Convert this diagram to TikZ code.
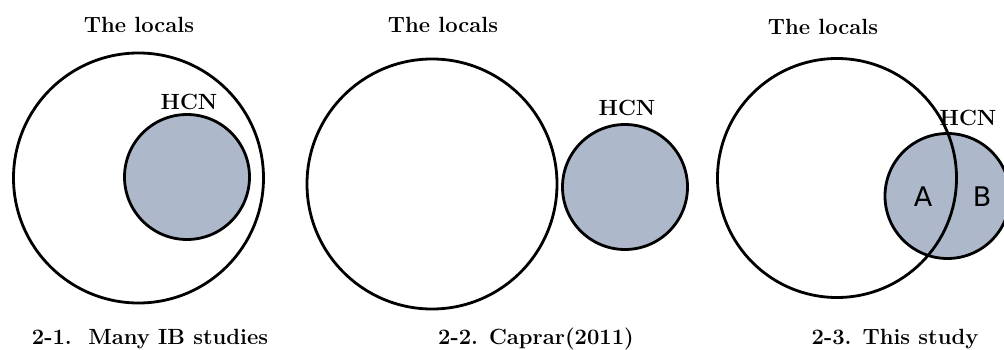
\documentclass[tikz,border=0pt]{standalone}
\usepackage{fontspec}
\newfontfamily\labsans{DejaVu Sans}
\definecolor{hcnfill}{RGB}{173,185,202}
\begin{document}
\begin{tikzpicture}[x=1pt,y=-1pt,
  ring/.style={circle,draw=black,line width=2.8pt,inner sep=0pt},
  big/.style={ring,minimum size=250pt},
  small/.style={ring,fill=hcnfill,minimum size=125pt},
  lab/.style={anchor=base,inner sep=0pt,font=\fontsize{22}{26}\selectfont\bfseries},
  ab/.style={inner sep=0pt,font=\fontsize{27}{31}\selectfont\labsans}]
\clip (0,0) rectangle (1004,350);
\fill[white] (0,0) rectangle (1004,350);
% panel 1
\node[big] (L1) at (138.5,178) {};
\node[small] (H1) at (187,177) {};
\node[lab] (t1) at (139,33) {The locals};
\node[lab] (h1) at (189,110) {HCN};
\node[lab] (c1) at (150,344) {2-1.\ \ Many IB studies};
% panel 2
\node[big] (L2) at (432,184) {};
\node[small] (H2) at (625,187) {};
\node[lab] (t2) at (443,33) {The locals};
\node[lab] (h2) at (627,116) {HCN};
\node[lab] (c2) at (536,344) {2-2. Caprar(2011)};
% panel 3
\node[small] (H3) at (947.5,196) {};
\node[ring,minimum size=239pt] (L3) at (837,178) {};
\node[lab] (t3) at (823,35) {The locals};
\node[lab] (h3) at (968,126) {HCN};
\node[ab] (A) at (923,197) {A};
\node[ab] (B) at (982,197) {B};
\node[lab] (c3) at (895,344) {2-3. This study};
\end{tikzpicture}
\end{document}
